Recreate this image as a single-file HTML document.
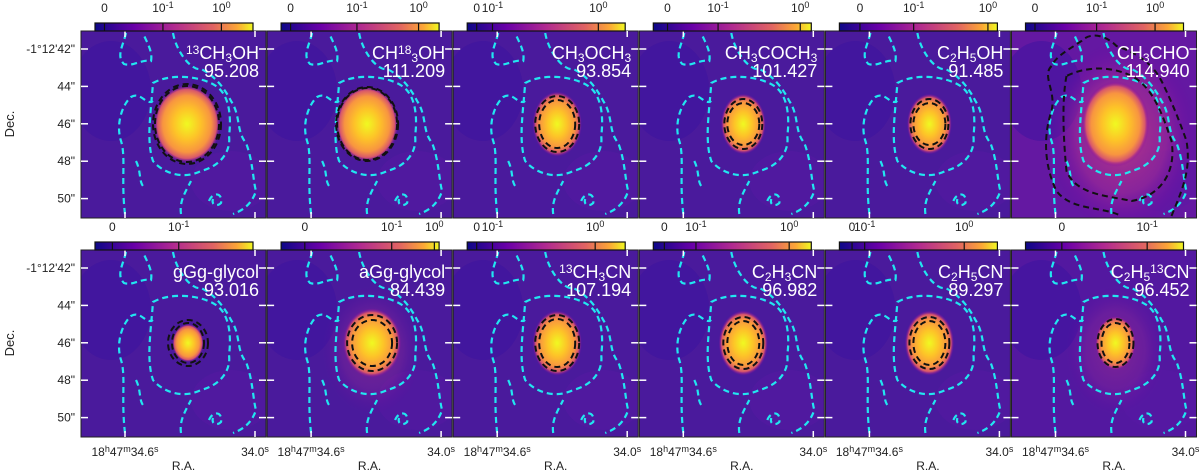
<!DOCTYPE html>
<html><head><meta charset="utf-8">
<style>
html,body{margin:0;padding:0;background:#fff;}
svg{display:block;font-family:"Liberation Sans","DejaVu Sans",sans-serif;}
</style></head>
<body>
<svg id="fig" width="1200" height="472" viewBox="0 0 1200 472" xmlns="http://www.w3.org/2000/svg">
<defs>
  <radialGradient id="blob" cx="0.5" cy="0.5" r="0.5">
    <stop offset="0" stop-color="#f0f921"/>
    <stop offset="0.4" stop-color="#fdc328"/>
    <stop offset="0.72" stop-color="#f89540"/>
    <stop offset="0.88" stop-color="#d8576b"/>
    <stop offset="1" stop-color="#7e03a8" stop-opacity="0"/>
  </radialGradient>
  <radialGradient id="glow" cx="0.5" cy="0.5" r="0.5">
    <stop offset="0" stop-color="#c03a83" stop-opacity="0.9"/>
    <stop offset="0.6" stop-color="#a42c95" stop-opacity="0.6"/>
    <stop offset="1" stop-color="#6a00a8" stop-opacity="0"/>
  </radialGradient>
  <linearGradient id="cmap" x1="0" x2="1" y1="0" y2="0">
    <stop offset="0" stop-color="#0d0887"/>
    <stop offset="0.25" stop-color="#6a00a8"/>
    <stop offset="0.5" stop-color="#b12a90"/>
    <stop offset="0.75" stop-color="#e16462"/>
    <stop offset="0.9" stop-color="#fca636"/>
    <stop offset="1" stop-color="#f0f921"/>
  </linearGradient>
  <g id="cyan" fill="none" stroke="#22e6f0" stroke-width="2.2" stroke-dasharray="6,4">
    <path d="M45,2 C42,15 35,25 43,33 C52,36 60,28 70,30 C72,20 65,10 62,2"/>
    <path d="M72,52 C90,42 120,45 135,55 C150,65 150,90 148,105 C150,120 140,135 120,140 C100,150 80,140 72,130 C65,110 70,80 72,52 Z"/>
    <path d="M44,183 C40,150 45,125 40,110 C35,95 40,75 50,66 C60,60 65,75 72,70"/>
    <path d="M92,2 C95,20 110,40 120,38 C135,45 145,60 150,70 C160,85 155,100 165,112 C172,130 172,150 175,160 C170,175 160,180 152,183"/>
    <path d="M100,183 C98,170 105,160 110,150"/>
    <path d="M128,170 C132,160 142,162 140,172 C136,176 130,174 132,168"/>
    <path d="M55,130 C60,140 58,150 62,155"/>
  </g>
</defs>
<g id="panels"></g>
<text x="14" y="124" font-size="13" text-anchor="middle" transform="rotate(-90 14 124)" fill="#222">Dec.</text>
<text x="14" y="343" font-size="13" text-anchor="middle" transform="rotate(-90 14 343)" fill="#222">Dec.</text>
</svg>
<script>
const species = ["<sup13>CH<sub>3</sub>OH","CH<sup18><sub3>OH","CH<sub>3</sub>OCH<sub>3</sub>","CH<sub>3</sub>COCH<sub>3</sub>","C<sub>2</sub>H<sub>5</sub>OH","CH<sub>3</sub>CHO",
                 "gGg-glycol","aGg-glycol","<sup13>CH<sub>3</sub>CN","C<sub>2</sub>H<sub>3</sub>CN","C<sub>2</sub>H<sub>5</sub>CN","C<sub>2</sub>H<sub>5</sub><sup13>CN"];
const freqs = ["95.208","111.209","93.854","101.427","91.485","114.940","93.016","84.439","107.194","96.982","89.297","96.452"];
const cbTicks = [[0.06,0.43,0.80],[0.06,0.48,0.87],[0.06,0.16,0.83],[0.09,0.41,0.93],[0.13,0.47,0.94],[0.06,0.45,0.82],
                 [0.11,0.53],[0.15,0.70,0.97],[0.06,0.16,0.81],[0.07,0.27,0.86],[0.08,0.16,0.79],[0.23,0.77]];
const cbLabels = ["0","10^-1","10^0"];
const blobRx = [30,28,22,20,20,30,14,26,22,22,22,18];
const blobRy = [35,34,29,27,27,38,17,31,29,29,29,24];
const blobDx = [106,100,104,104,104,104,107,105,104,104,104,104];
const contourRx = [[32,34],[30,31],[18,22],[16,19],[16,19],[0,0],[16,20],[20,25],[18,22],[16,20],[16,20],[14,18]];
const contourRy = [[38,40],[36,37],[24,28],[21,25],[21,25],[0,0],[20,23],[23,28],[24,28],[22,26],[22,26],[20,24]];
const decTicks = ["-1°12'42\"","44\"","46\"","48\"","50\""];

const NS="http://www.w3.org/2000/svg";
const root=document.getElementById('panels');
function el(tag,attrs,parent){const e=document.createElementNS(NS,tag);for(const k in attrs)e.setAttribute(k,attrs[k]);(parent||root).appendChild(e);return e;}
const PW=185, PH=187;
const xScale=i=>81+(i%6)*186.1;
const yTop=r=>r===0?31:250;
const decY=k=>18+k*37.4;

function addRichText(t,str){
  const re=/<sub>(.*?)<\/sub>|<sub(\d+)>|<sup(\d+)>|([^<]+)/g;let m;
  while((m=re.exec(str))){
    if(m[1]!==undefined){const s=el('tspan',{'baseline-shift':'-25%','font-size':'12'},t);s.textContent=m[1];}
    else if(m[2]!==undefined){const s=el('tspan',{'baseline-shift':'-25%','font-size':'12'},t);s.textContent=m[2];}
    else if(m[3]!==undefined){const s=el('tspan',{'baseline-shift':'40%','font-size':'12'},t);s.textContent=m[3];}
    else {const s=el('tspan',{},t);s.textContent=m[4];}
  }
}
function addLabel(g,x,y,lab){
  const t=el('text',{x:x,y:y,'font-size':'12','text-anchor':'middle',fill:'#222'},g);
  if(lab==="0"){t.textContent="0";return t;}
  const p=lab.split('^');const a=el('tspan',{},t);a.textContent=p[0];
  const b=el('tspan',{'baseline-shift':'45%','font-size':'9'},t);b.textContent=p[1];return t;
}

for(let i=0;i<12;i++){
  const row=Math.floor(i/6), col=i%6;
  const X=xScale(i), Y=yTop(row);
  const g=el('g',{transform:`translate(${X},${Y})`});
  
  
  const cp=el('clipPath',{id:'cp'+i},g);el('rect',{x:0,y:0,width:PW,height:PH},cp);
  const img=el('g',{'clip-path':`url(#cp${i})`},g);
  const bgc = i===5?'#6418a2':(i===11?'#5318a0':'#4a1a9c');
  const bg=el('rect',{x:0,y:0,width:PW,height:PH,fill:bgc},img);
  
  
  el('ellipse',{cx:30,cy:60,rx:40,ry:50,fill:'#3a12a0',opacity:0.5},img);
  el('ellipse',{cx:150,cy:150,rx:40,ry:30,fill:'#5a18a4',opacity:0.4},img);
  if(i===5){el('ellipse',{cx:110,cy:105,rx:75,ry:95,fill:'url(#glow)'},img);}
  if(i===7||i===11){el('ellipse',{cx:blobDx[i],cy:100,rx:50,ry:65,fill:'url(#glow)',opacity:0.45},img);}
  const b=el('ellipse',{cx:blobDx[i],cy:93,rx:blobRx[i]*1.12,ry:blobRy[i]*1.12,fill:'url(#blob)'},img);
  
  
  el('use',{href:'#cyan'},img);
  if(i===5){
    const bk=el('g',{fill:'none',stroke:'#111','stroke-width':2,'stroke-dasharray':'6,4'},img);
    el('path',{d:'M40,35 C30,45 45,60 40,80 C30,110 35,140 45,160 C60,180 90,175 110,185 M160,185 C170,160 180,140 175,110 C168,90 160,70 150,50 C140,30 120,20 105,15 C95,5 80,0 70,10 C55,20 45,25 40,35'},bk);
    el('path',{d:'M55,45 C50,70 52,110 55,140 C65,165 100,165 120,170 C150,165 165,140 160,110 C150,80 140,55 120,45 C100,35 75,35 55,45Z'},bk);
  } else {
    for(let k=0;k<2;k++){
      const c=el('ellipse',{cx:blobDx[i],cy:93,rx:contourRx[i][k],ry:contourRy[i][k],fill:'none',stroke:'#111','stroke-width':2,'stroke-dasharray':'6,4'},img);
      
      
    }
  }
  el('rect',{x:0,y:0,width:PW,height:PH,fill:'none',stroke:'#222','stroke-width':1},g);
  [44,174].forEach(tx=>{
    el('line',{x1:tx,y1:0,x2:tx,y2:6,stroke:'#fff','stroke-width':1.5},g);
    el('line',{x1:tx,y1:PH,x2:tx,y2:PH-6,stroke:'#fff','stroke-width':1.5},g);
  });
  for(let k=0;k<5;k++){
    const ty=decY(k);
    el('line',{x1:0,y1:ty,x2:7,y2:ty,stroke:'#fff','stroke-width':1.5},g);
    el('line',{x1:PW,y1:ty,x2:PW-7,y2:ty,stroke:'#fff','stroke-width':1.5},g);
  }
  const t1=el('text',{x:178,y:28,'font-size':'18','text-anchor':'end',fill:'#fff'},g);
  
  
  addRichText(t1,species[i]);
  const t2=el('text',{x:178,y:46,'font-size':'18','text-anchor':'end',fill:'#fff'},g);
  
  
  t2.textContent=freqs[i];
  const cb=el('g',{transform:`translate(14,${-8})`},g);
  
  
  el('rect',{x:0,y:0,width:158,height:8,fill:'url(#cmap)',stroke:'#111','stroke-width':1.2},cb);
  cbTicks[i].forEach((f,k)=>{
    el('line',{x1:f*158,y1:0,x2:f*158,y2:8,stroke:'#111','stroke-width':1.2},cb);
    const lt=addLabel(cb,f*158,-11,cbLabels[k]);
    
    
  });
  if(col===0){
    decTicks.forEach((d,k)=>{
      const t=el('text',{x:-6,y:decY(k)+4,'font-size':'12','text-anchor':'end',fill:'#222'},g);
      
      
      t.textContent=d;
    });
  }
  if(row===1){
    const t=el('text',{x:44,y:PH+19,'font-size':'12','text-anchor':'middle',fill:'#222'},g);
    
    
    [['18',0],['h',1],['47',0],['m',1],['34.6',0],['s',1]].forEach(([s,sup])=>{const sp=el('tspan',sup?{'baseline-shift':'40%','font-size':'9'}:{},t);sp.textContent=s;});
    const t2b=el('text',{x:174,y:PH+19,'font-size':'12','text-anchor':'middle',fill:'#222'},g);
    
    
    [['34.0',0],['s',1]].forEach(([s,sup])=>{const sp=el('tspan',sup?{'baseline-shift':'40%','font-size':'9'}:{},t2b);sp.textContent=s;});
    const ra=el('text',{x:PW/2+10,y:PH+33,'font-size':'12','text-anchor':'middle',fill:'#222'},g);
    
    
    ra.textContent='R.A.';
  }
}
</script>
</body></html>
